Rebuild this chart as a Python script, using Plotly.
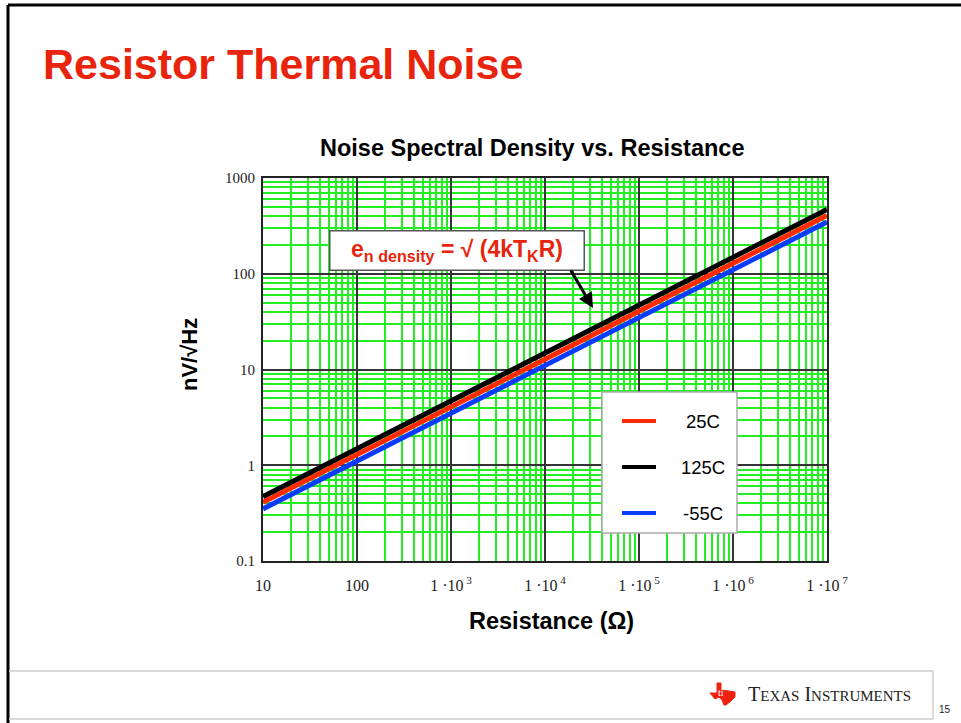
import plotly.graph_objects as go

W, H = 961, 723

# ---- data ----
resistance = [10, 100, 1e3, 1e4, 1e5, 1e6, 1e7]
noise_25C = [0.41, 1.28, 4.06, 12.8, 40.6, 128, 406]
noise_125C = [0.47, 1.48, 4.69, 14.8, 46.9, 148, 469]
noise_m55C = [0.35, 1.10, 3.47, 11.0, 34.7, 110, 347]
series_names = ["25C", "125C", "-55C"]
series_colors = ["#ff2a00", "#000000", "#0a3cff"]

x_tickvals = [10, 100, 1e3, 1e4, 1e5, 1e6, 1e7]
x_ticktext = ["10", "100", "1 \u00b710<sup> 3</sup>", "1 \u00b710<sup> 4</sup>",
              "1 \u00b710<sup> 5</sup>", "1 \u00b710<sup> 6</sup>", "1 \u00b710<sup> 7</sup>"]
y_tickvals = [0.1, 1, 10, 100, 1000]
y_ticktext = ["0.1", "1", "10", "100", "1000"]


def PX(x):
    return x / W


def PY(y):
    return 1 - y / H


RED = "#e8240c"
SANS = "Liberation Sans, Arial, sans-serif"
SERIF = "Liberation Serif, Times New Roman, serif"

fig = go.Figure()
data_by_name = {"25C": noise_25C, "125C": noise_125C, "-55C": noise_m55C}
for name in ["-55C", "125C", "25C"]:
    i = series_names.index(name)
    fig.add_trace(go.Scatter(x=resistance, y=data_by_name[name], mode="lines",
                             name=name, line=dict(color=series_colors[i], width=5),
                             showlegend=False, hoverinfo="skip"))

axis_common = dict(
    type="log", showgrid=True, gridcolor="#333333", gridwidth=1.5,
    minor=dict(showgrid=True, gridcolor="#22ee22", gridwidth=1.5, dtick="D1"),
    showline=True, linecolor="#222222", linewidth=2, mirror=True,
    zeroline=False, tickmode="array", automargin=False,
    tickfont=dict(family=SERIF, size=15, color="#222222"),
)

fig.update_layout(
    width=W, height=H,
    margin=dict(l=0, r=0, t=0, b=0, pad=0, autoexpand=False),
    paper_bgcolor="white", plot_bgcolor="white",
    xaxis=dict(axis_common, range=[1, 7], domain=[PX(263), PX(827)],
               tickvals=x_tickvals, ticktext=x_ticktext,
               tickfont=dict(family=SERIF, size=16, color="#222222"),
               ticks="outside", ticklen=9, tickcolor="rgba(0,0,0,0)"),
    yaxis=dict(axis_common, range=[-1, 3], domain=[PY(561), PY(178)],
               tickvals=y_tickvals, ticktext=y_ticktext,
               ticks="outside", ticklen=3, tickcolor="rgba(0,0,0,0)"),
)

shapes = []
# slide border (top & left)
shapes.append(dict(type="line", xref="paper", yref="paper", x0=PX(8), x1=PX(961),
                   y0=PY(5), y1=PY(5), line=dict(color="black", width=3)))
shapes.append(dict(type="line", xref="paper", yref="paper", x0=PX(8), x1=PX(8),
                   y0=PY(5), y1=PY(723), line=dict(color="black", width=3)))
# footer box
shapes.append(dict(type="line", xref="paper", yref="paper", x0=PX(9), x1=PX(933),
                   y0=PY(671), y1=PY(671), line=dict(color="#cccccc", width=1.5)))
shapes.append(dict(type="line", xref="paper", yref="paper", x0=PX(9), x1=PX(933),
                   y0=PY(719), y1=PY(719), line=dict(color="#cccccc", width=1.5)))
shapes.append(dict(type="line", xref="paper", yref="paper", x0=PX(933), x1=PX(933),
                   y0=PY(671), y1=PY(719), line=dict(color="#cccccc", width=1.5)))

# TI logo (approximate Texas outline)
ox, oy = 710, 683
tex = [(7, 0), (11, 0), (11, 7), (19, 8), (25, 9), (25, 14), (21, 18), (16, 22),
       (14, 22), (12, 17), (9, 14), (5, 16), (0, 10), (7, 10)]
path = "M " + " L ".join(f"{PX(ox + a):.5f},{PY(oy + b):.5f}" for a, b in tex) + " Z"
shapes.append(dict(type="path", xref="paper", yref="paper", path=path,
                   fillcolor="#ee2211", line=dict(color="#ee2211", width=1)))

# legend box
shapes.append(dict(type="rect", xref="paper", yref="paper", x0=PX(602), x1=PX(737),
                   y0=PY(533), y1=PY(392), fillcolor="white",
                   line=dict(color="#aaaaaa", width=1.5), layer="above"))
legend_rows = [421, 467, 513]
for name, yy in zip(series_names, legend_rows):
    c = series_colors[series_names.index(name)]
    shapes.append(dict(type="line", xref="paper", yref="paper", x0=PX(622), x1=PX(656),
                       y0=PY(yy), y1=PY(yy), line=dict(color=c, width=4), layer="above"))

fig.update_layout(shapes=shapes)

ann = []
ann.append(dict(text="<b>Resistor Thermal Noise</b>", x=PX(41), y=PY(64), xref="paper",
                yref="paper", xanchor="left", yanchor="middle", showarrow=False,
                font=dict(family=SANS, size=43, color=RED)))
ann.append(dict(text="<b>Noise Spectral Density vs. Resistance</b>", x=PX(532), y=PY(148),
                xref="paper", yref="paper", xanchor="center", yanchor="middle",
                showarrow=False, font=dict(family=SANS, size=23.5, color="black")))
ann.append(dict(text="<b>Resistance (\u03a9)</b>", x=PX(551), y=PY(621),
                xref="paper", yref="paper", xanchor="center", yanchor="middle",
                showarrow=False, font=dict(family=SANS, size=23.5, color="black")))
ann.append(dict(text="<b>nV/\u221aHz</b>", x=PX(189), y=PY(355), textangle=-90,
                xref="paper", yref="paper", xanchor="center", yanchor="middle",
                showarrow=False, font=dict(family=SANS, size=22, color="black")))
# formula box
ann.append(dict(text="<b>e<sub>n density</sub> = \u221a (4kT<sub>K</sub>R)</b>",
                x=PX(457), y=PY(250), xref="paper", yref="paper",
                xanchor="center", yanchor="middle", showarrow=False,
                width=251, height=36, bgcolor="white", bordercolor="#555555",
                borderwidth=1.5, font=dict(family=SANS, size=23, color=RED)))
# arrow
ann.append(dict(text="", x=PX(593), y=PY(308), xref="paper", yref="paper",
                ax=-23, ay=-39, showarrow=True, arrowhead=2, arrowsize=1,
                arrowwidth=3, arrowcolor="black"))
# legend labels
for name, yy in zip(series_names, legend_rows):
    ann.append(dict(text=name, x=PX(703), y=PY(yy), xref="paper", yref="paper",
                    xanchor="center", yanchor="middle", showarrow=False,
                    font=dict(family=SANS, size=18.5, color="black")))
# footer
ann.append(dict(text="T<span style='font-size:15px'>EXAS</span> I<span style='font-size:15px'>NSTRUMENTS</span>",
                x=PX(746), y=PY(694), xref="paper", yref="paper",
                xanchor="left", yanchor="middle", showarrow=False,
                font=dict(family=SERIF, size=20, color="#222222")))
ann.append(dict(text="ti", x=PX(721), y=PY(692), xref="paper", yref="paper",
                xanchor="center", yanchor="middle", showarrow=False,
                font=dict(family=SERIF, size=10, color="white")))
ann.append(dict(text="15", x=PX(945), y=PY(709), xref="paper", yref="paper",
                xanchor="center", yanchor="middle", showarrow=False,
                font=dict(family=SANS, size=10, color="#222222")))

fig.update_layout(annotations=ann)

js = """
document.body.style.margin='0';
document.body.style.padding='0';
document.body.style.overflow='hidden';
document.documentElement.style.overflow='hidden';
"""
fig.write_html("out.html", post_script=js, config={"displayModeBar": False})
